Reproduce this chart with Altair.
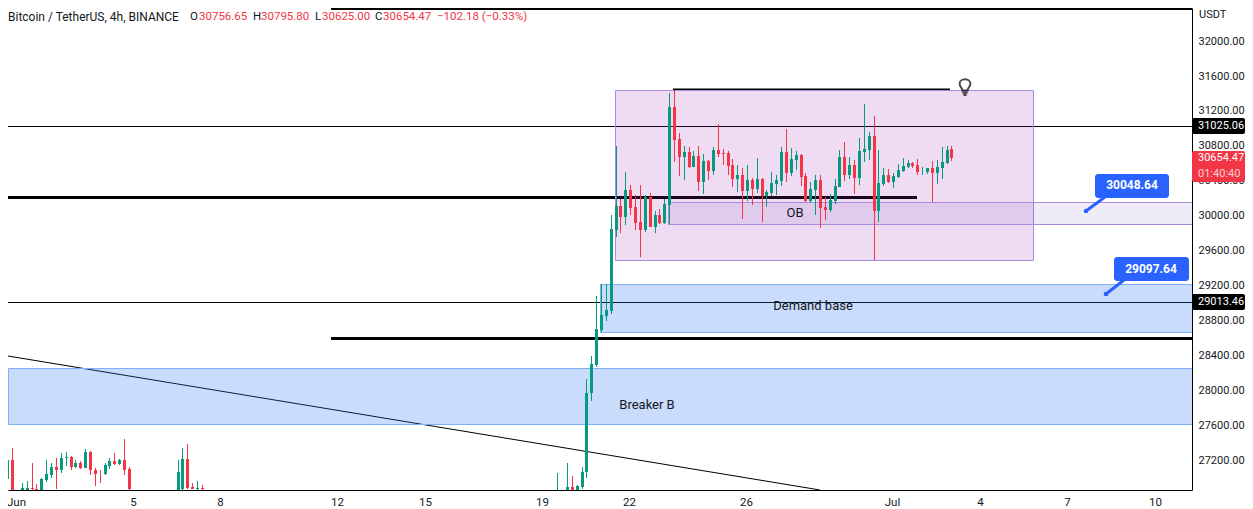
import altair as alt
import pandas as pd

# 4h candles: bar number counted from 1 June 00:00 UTC
bar = [-3,-2,-1,1,2,3,4,5,6,7,8,9,10,11,12,13,14,15,16,17,18,19,20,21,22,23,33,34,35,36,37,38,
       111,113,114,115,116,117,118,119,120,121,122,
       123,124,125,126,127,128,129,130,131,132,133,134,135,136,137,138,139,140,141,142,143,144,145,146,147,148,149,150,151,152,
       153,154,155,156,157,158,159,160,161,162,163,164,165,166,167,168,169,170,171,172,173,174,175,176,177,178,179,180,181,182,183,184,185,186,187,188,189,190,191,192]
opens = [26828,26992,27209,26800,26800,26889,26874,26800,26980,27038,27129,27087,27224,27243,27129,27175,27118,27301,27095,27061,27049,27141,27198,27163,27209,27106,26800,26874,27221,26897,26874,26889,
         26800,26860,26893,26860,26893,27064,27967,28295,28691,28855,28912,
         29837,30112,29986,30295,30100,29929,29837,30215,29872,30009,29917,30123,31243,30878,30672,30729,30558,30683,30386,30626,30512,30752,30718,30718,30580,30420,30466,30283,30409,30306,
         30420,30226,30260,30363,30398,30729,30489,30638,30695,30455,30169,30295,30409,30100,30066,30169,30329,30672,30466,30580,30432,30729,30752,30912,30055,30363,30466,30386,30443,30512,30558,30603,30580,30504,30500,30546,30489,30546,30603,30756.65]
highs = [27118,27301,27346,26946,26961,27175,26935,27000,27209,27171,27232,27289,27301,27251,27209,27190,27335,27312,27118,27095,27171,27232,27289,27221,27449,27129,27209,27346,27392,26946,26969,26923,
         27060,27175,27026,26915,27125,28135,28398,29083,29217,29217,30000,
         30798,30192,30500,30352,30238,30352,30238,30260,30055,30078,30192,31403,31438,30946,30798,30786,30740,30798,30706,30630,30786,31049,30763,30740,30649,30580,30546,30580,30432,30660,
         30432,30295,30500,30466,30786,30992,30775,30740,30706,30489,30386,30466,30466,30215,30249,30420,30752,30843,30672,30638,30889,31278,30958,31140,30752,30546,30535,30489,30592,30660,30638,30615,30649,30558,30546,30626,30638,30786,30798,30795.80]
lows = [26800,26800,26800,26800,26800,26800,26800,26800,26950,27000,26874,27057,27133,27087,27110,27102,27115,27030,26912,26946,27030,27102,27152,27152,27038,26800,26800,26800,26874,26874,26800,26800,
        26800,26800,26800,26800,26870,26999,27876,28264,28668,28790,28878,
        29757,29803,29895,30009,29837,29529,29815,29865,29803,29906,29906,29906,30615,30455,30409,30546,30550,30283,30249,30409,30466,30672,30580,30466,30329,30272,29963,30169,30123,30260,
        29929,30100,30226,30238,30340,30386,30455,30523,30340,30157,30146,30009,29860,29952,30043,30135,30320,30398,30420,30249,30352,30615,30638,29495,29929,30340,30375,30318,30432,30500,30546,30546,30466,30466,30478,30157,30363,30420,30592,30625.00]
closes = [27000,27209,26828,26885,26885,26874,26800,26988,27049,27129,27087,27232,27243,27129,27175,27118,27301,27087,27049,27057,27152,27198,27163,27209,27095,26874,27072,27221,26885,26874,26889,26874,
          26830,26893,26860,26904,27072,27975,28306,28706,28866,28923,29849,
          30112,29986,30295,30089,29917,29837,30215,29872,30009,29917,30135,31243,30866,30672,30729,30558,30683,30386,30626,30512,30752,30706,30706,30569,30420,30466,30283,30409,30306,30420,
          30226,30272,30375,30409,30729,30489,30649,30695,30443,30169,30306,30409,30089,30066,30180,30340,30672,30466,30580,30432,30740,30763,30912,30055,30375,30466,30386,30455,30523,30569,30603,30569,30500,30512,30546,30489,30558,30615,30752,30654.47]

x_start = "2023-05-31T16:36:00Z"
x_end = "2023-07-11T05:45:00Z"
y_low, y_high = 26862.5, 32371.5

price_ticks = [27200,27600,28000,28400,28800,29200,29600,30000,30400,30800,31200,31600,32000]
date_ticks = ["2023-06-01T00:00:00Z","2023-06-05T00:00:00Z","2023-06-08T00:00:00Z","2023-06-12T00:00:00Z","2023-06-15T00:00:00Z","2023-06-19T00:00:00Z","2023-06-22T00:00:00Z",
              "2023-06-26T00:00:00Z","2023-07-01T00:00:00Z","2023-07-04T00:00:00Z","2023-07-07T00:00:00Z","2023-07-10T00:00:00Z"]

FONT = "Roboto"
GREEN, RED, INK, BLUE = "#089981", "#f23645", "#131722", "#2962ff"

times = [pd.Timestamp("2023-06-01T00:00:00Z") + pd.Timedelta(hours=4 * b) for b in bar]
candles = pd.DataFrame({
    "t": [t.strftime("%Y-%m-%dT%H:%M:%SZ") for t in times],
    "o": opens, "h": highs, "l": lows, "c": closes,
    "body_top": [max(a, b) for a, b in zip(opens, closes)],
    "body_bot": [min(a, b) for a, b in zip(opens, closes)],
    "dir": ["up" if c >= o else "down" for o, c in zip(opens, closes)],
})

xs = alt.Scale(type="utc", domain=[x_start, x_end], nice=False, padding=0, round=True)
ys = alt.Scale(domain=[y_low, y_high], nice=False, zero=False, padding=0, round=True)
x_axis = alt.Axis(
    values=date_ticks, grid=False, ticks=False, domainColor="#000000", domainWidth=1, title=None,
    labelExpr="utcdate(datum.value)==1 ? utcFormat(datum.value,'%b') : utcFormat(datum.value,'%-d')",
    labelFont=FONT, labelFontSize=11.5, labelColor=INK, labelPadding=6, labelOverlap=False, labelFlush=False,
    labelOffset=-1)
y_axis = alt.Axis(
    orient="right", values=price_ticks, format=".2f", grid=False, ticks=False, domainColor="#000000", title=None,
    domainWidth=1, labelFont=FONT, labelFontSize=11, labelColor=INK, labelPadding=6, labelOverlap=False)
X = lambda f: alt.X(f, type="temporal", scale=xs, axis=x_axis)
Y = lambda f: alt.Y(f, type="quantitative", scale=ys, axis=y_axis)
dir_color = alt.Color("dir:N", scale=alt.Scale(domain=["up", "down"], range=[GREEN, RED]), legend=None)
crisp = dict(xOffset=0.5, yOffset=0.5, x2Offset=0.5, y2Offset=0.5)

# horizontal levels
lines = pd.DataFrame({
    "a": [x_start, x_start, x_start, "2023-06-11T18:00:00Z", "2023-06-11T18:00:00Z", "2023-06-23T11:15:00Z"],
    "b": [x_end, x_end, "2023-07-01T19:40:00Z", x_end, x_end, "2023-07-02T22:50:00Z"],
    "p": [31025.06, 29013.46, 30211, 28597, 32371, 31446],
    "w": [1, 1, 3, 3, 3, 2],
})
lines_layer = alt.Chart(lines).mark_rule(color="#000000", clip=True, yOffset=0.5).encode(
    x=X("a"), x2="b:T", y=Y("p"), size=alt.Size("w:Q", scale=None, legend=None))

trend = pd.DataFrame({"a": [x_start], "b": ["2023-06-28T12:00:00Z"], "p": [28395], "q": [26862.5]})
trend_layer = alt.Chart(trend).mark_rule(color="#000000", strokeWidth=1, clip=True).encode(
    x=X("a"), x2="b:T", y=Y("p"), y2="q:Q")

# zones
purple = pd.DataFrame({"a": ["2023-06-21T11:30:00Z"], "b": ["2023-07-05T19:00:00Z"], "p": [31438], "q": [29495]})
purple_layer = alt.Chart(purple).mark_rect(color="#9c27b0", fillOpacity=0.16, stroke="#a98bdb", strokeWidth=1, clip=True, **crisp).encode(
    x=X("a"), x2="b:T", y=Y("p"), y2="q:Q")
ob = pd.DataFrame({"a": ["2023-06-23T07:00:00Z"], "b": [x_end], "p": [30157], "q": [29906]})
ob_layer = alt.Chart(ob).mark_rect(color="#673ab7", fillOpacity=0.1, stroke="#a98bdb", strokeWidth=1, clip=True, **crisp).encode(
    x=X("a"), x2="b:T", y=Y("p"), y2="q:Q")
blue = pd.DataFrame({"a": ["2023-06-20T23:15:00Z", x_start], "b": [x_end, x_end],
                     "p": [29217, 28260], "q": [28668, 27620]})
blue_layer = alt.Chart(blue).mark_rect(color="#2a73f0", fillOpacity=0.25, stroke="#7fb0f5", strokeWidth=1, clip=True, **crisp).encode(
    x=X("a"), x2="b:T", y=Y("p"), y2="q:Q")

# candles
wicks = alt.Chart(candles).mark_rule(strokeWidth=1, clip=True, xOffset=0.5).encode(x=X("t"), y=Y("l"), y2="h:Q", color=dir_color)
bodies = alt.Chart(candles).mark_bar(size=3, clip=True, xOffset=0.5).encode(x=X("t"), y=Y("body_bot"), y2="body_top:Q", color=dir_color)

# annotations on the plot
notes = pd.DataFrame({"t": ["2023-06-27T15:20:00Z", "2023-06-28T06:15:00Z", "2023-06-22T14:00:00Z"],
                      "p": [30032, 28969, 27837], "s": ["OB", "Demand base", "Breaker B"]})
notes_layer = alt.Chart(notes).mark_text(font=FONT, fontSize=13, color=INK).encode(x=X("t"), y=Y("p"), text="s:N")

bulb_path = ("M-0.3,0.3 C-0.3,0 -0.62,-0.15 -0.62,-0.5 A0.6,0.5 0 1 1 0.62,-0.5 "
             "C0.62,-0.15 0.3,0 0.3,0.3 Z M-0.3,0.55 L0.3,0.55 M-0.18,0.8 L0.18,0.8")
bulb = pd.DataFrame({"t": ["2023-07-03T11:15:00Z"], "p": [31460]})
bulb_layer = alt.Chart(bulb).mark_point(shape=bulb_path, size=300, filled=False, stroke="#000000", strokeWidth=2).encode(
    x=X("t"), y=Y("p"))

# price callouts
boxes = pd.DataFrame({"a": ["2023-07-07T22:00:00Z", "2023-07-08T13:40:00Z"], "b": ["2023-07-10T10:50:00Z", "2023-07-11T03:20:00Z"],
                      "p": [30478, 29529], "q": [30203, 29255]})
tails = pd.DataFrame({"a": ["2023-07-07T14:40:00Z", "2023-07-08T06:40:00Z"], "b": ["2023-07-08T06:15:00Z", "2023-07-08T21:50:00Z"],
                      "p": [30048.64, 29097.64], "q": [30210, 29262]})
labels = pd.DataFrame({"t": ["2023-07-09T04:20:00Z", "2023-07-09T20:25:00Z"], "p": [30346, 29392], "s": ["30048.64", "29097.64"]})
box_layer = alt.Chart(boxes).mark_rect(color=BLUE, cornerRadius=3).encode(x=X("a"), x2="b:T", y=Y("p"), y2="q:Q")
tail_layer = alt.Chart(tails).mark_rule(color=BLUE, strokeWidth=3).encode(x=X("a"), x2="b:T", y=Y("p"), y2="q:Q")
dot_layer = alt.Chart(tails).mark_circle(color=BLUE, size=22, opacity=1).encode(x=X("a"), y=Y("p"))
label_layer = alt.Chart(labels).mark_text(font=FONT, fontSize=12, fontWeight="bold", color="#ffffff").encode(x=X("t"), y=Y("p"), text="s:N")

# tags on the price axis
tags = pd.DataFrame({"p": [31118, 29106, 30740], "q": [30935, 28923, 30386], "c": ["#000000", "#000000", RED]})
tag_layer = alt.Chart(tags).mark_rect(cornerRadius=2).encode(
    x=alt.value(1184), x2=alt.value(1237), y=Y("p"), y2="q:Q", color=alt.Color("c:N", scale=None, legend=None))
tag_text = pd.DataFrame({"p": [31025.06, 29013.46, 30654.47, 30478], "s": ["31025.06", "29013.46", "30654.47", "01:40:40"],
                         "c": ["#ffffff", "#ffffff", "#ffffff", "#fbd0d4"]})
tag_text_layer = alt.Chart(tag_text).mark_text(font=FONT, fontSize=11, align="left").encode(
    x=alt.value(1190), y=Y("p"), text="s:N", color=alt.Color("c:N", scale=None, legend=None))
usdt = alt.Chart(pd.DataFrame({"s": ["USDT"]})).mark_text(font=FONT, fontSize=11, align="left", color=INK).encode(
    x=alt.value(1191), y=alt.value(7), text="s:N")

# legend line at the top
head_x = [0, 182, 191, 245, 253, 307, 314, 367, 375, 429]
head_s = ["Bitcoin / TetherUS, 4h, BINANCE", "O", "30756.65", "H", "30795.80", "L", "30625.00", "C", "30654.47", "\u2212102.18 (\u22120.33%)"]
head_c = [INK, INK, RED, INK, RED, INK, RED, INK, RED, RED]
head_f = [12, 11.5, 11.5, 11.5, 11.5, 11.5, 11.5, 11.5, 11.5, 11.5]
head_layers = [
    alt.Chart(pd.DataFrame({"s": [s]})).mark_text(font=FONT, fontSize=f, align="left", color=c).encode(
        x=alt.value(px), y=alt.value(9), text="s:N")
    for px, s, c, f in zip(head_x, head_s, head_c, head_f)
]

chart = alt.layer(
    lines_layer, trend_layer, purple_layer, ob_layer, blue_layer, wicks, bodies, notes_layer,
    bulb_layer, tail_layer, dot_layer, box_layer, label_layer, tag_layer, tag_text_layer, usdt, *head_layers
).properties(
    width=1184, height=482,
    autosize=alt.AutoSizeParams(type="none"),
    padding={"left": 0, "top": 0, "right": 53, "bottom": 19},
    background="#ffffff",
).configure_view(stroke=None)

chart.save("out.html", embed_options={"renderer": "svg", "actions": False})
